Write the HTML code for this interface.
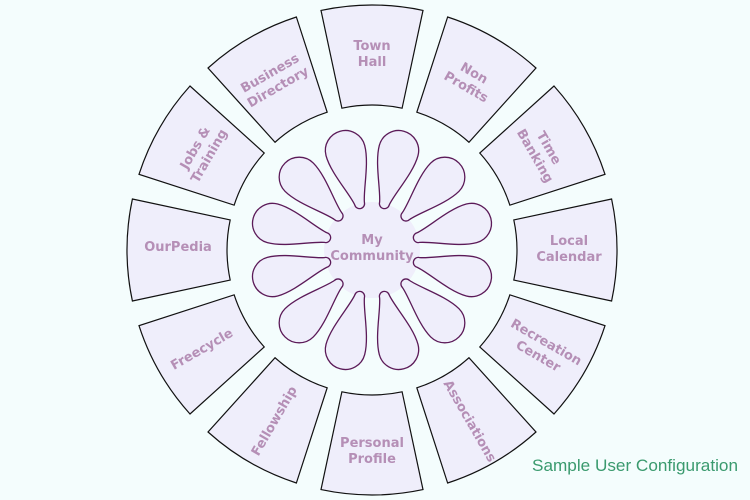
<!DOCTYPE html>
<html><head><meta charset="utf-8"><style>
html,body{margin:0;padding:0;background:#f4fdfd;}
svg{display:block;}
.s{fill:#efeefb;stroke:#111;stroke-width:1.2;}
.p{fill:#efeefb;stroke:#5b1a58;stroke-width:1.3;}
.t{font-family:"DejaVu Sans","Liberation Sans",sans-serif;font-weight:bold;font-size:13px;fill:#b58fb6;text-anchor:middle;}
</style></head><body>
<svg width="750" height="500" viewBox="0 0 750 500" xmlns="http://www.w3.org/2000/svg">
<rect width="750" height="500" fill="#f4fdfd"/>
<g transform="translate(372,250)">
<path class="s" transform="rotate(0)" d="M-51,-239.6 A245 245 0 0 1 51,-239.6 L30.1,-141.8 A145 145 0 0 0 -30.1,-141.8 Z"/>
<path class="s" transform="rotate(30)" d="M-51,-239.6 A245 245 0 0 1 51,-239.6 L30.1,-141.8 A145 145 0 0 0 -30.1,-141.8 Z"/>
<path class="s" transform="rotate(60)" d="M-51,-239.6 A245 245 0 0 1 51,-239.6 L30.1,-141.8 A145 145 0 0 0 -30.1,-141.8 Z"/>
<path class="s" transform="rotate(90)" d="M-51,-239.6 A245 245 0 0 1 51,-239.6 L30.1,-141.8 A145 145 0 0 0 -30.1,-141.8 Z"/>
<path class="s" transform="rotate(120)" d="M-51,-239.6 A245 245 0 0 1 51,-239.6 L30.1,-141.8 A145 145 0 0 0 -30.1,-141.8 Z"/>
<path class="s" transform="rotate(150)" d="M-51,-239.6 A245 245 0 0 1 51,-239.6 L30.1,-141.8 A145 145 0 0 0 -30.1,-141.8 Z"/>
<path class="s" transform="rotate(180)" d="M-51,-239.6 A245 245 0 0 1 51,-239.6 L30.1,-141.8 A145 145 0 0 0 -30.1,-141.8 Z"/>
<path class="s" transform="rotate(210)" d="M-51,-239.6 A245 245 0 0 1 51,-239.6 L30.1,-141.8 A145 145 0 0 0 -30.1,-141.8 Z"/>
<path class="s" transform="rotate(240)" d="M-51,-239.6 A245 245 0 0 1 51,-239.6 L30.1,-141.8 A145 145 0 0 0 -30.1,-141.8 Z"/>
<path class="s" transform="rotate(270)" d="M-51,-239.6 A245 245 0 0 1 51,-239.6 L30.1,-141.8 A145 145 0 0 0 -30.1,-141.8 Z"/>
<path class="s" transform="rotate(300)" d="M-51,-239.6 A245 245 0 0 1 51,-239.6 L30.1,-141.8 A145 145 0 0 0 -30.1,-141.8 Z"/>
<path class="s" transform="rotate(330)" d="M-51,-239.6 A245 245 0 0 1 51,-239.6 L30.1,-141.8 A145 145 0 0 0 -30.1,-141.8 Z"/>
<circle r="48" fill="#efeefb"/>
<path class="p" transform="rotate(15)" d="M5,-48 C7,-60 20,-85 20,-103 A20 20 0 0 0 -20,-103 C-20,-85 -7,-60 -5,-48 A5 5 0 0 0 5,-48 Z"/>
<path class="p" transform="rotate(45)" d="M5,-48 C7,-60 20,-85 20,-103 A20 20 0 0 0 -20,-103 C-20,-85 -7,-60 -5,-48 A5 5 0 0 0 5,-48 Z"/>
<path class="p" transform="rotate(75)" d="M5,-48 C7,-60 20,-85 20,-103 A20 20 0 0 0 -20,-103 C-20,-85 -7,-60 -5,-48 A5 5 0 0 0 5,-48 Z"/>
<path class="p" transform="rotate(105)" d="M5,-48 C7,-60 20,-85 20,-103 A20 20 0 0 0 -20,-103 C-20,-85 -7,-60 -5,-48 A5 5 0 0 0 5,-48 Z"/>
<path class="p" transform="rotate(135)" d="M5,-48 C7,-60 20,-85 20,-103 A20 20 0 0 0 -20,-103 C-20,-85 -7,-60 -5,-48 A5 5 0 0 0 5,-48 Z"/>
<path class="p" transform="rotate(165)" d="M5,-48 C7,-60 20,-85 20,-103 A20 20 0 0 0 -20,-103 C-20,-85 -7,-60 -5,-48 A5 5 0 0 0 5,-48 Z"/>
<path class="p" transform="rotate(195)" d="M5,-48 C7,-60 20,-85 20,-103 A20 20 0 0 0 -20,-103 C-20,-85 -7,-60 -5,-48 A5 5 0 0 0 5,-48 Z"/>
<path class="p" transform="rotate(225)" d="M5,-48 C7,-60 20,-85 20,-103 A20 20 0 0 0 -20,-103 C-20,-85 -7,-60 -5,-48 A5 5 0 0 0 5,-48 Z"/>
<path class="p" transform="rotate(255)" d="M5,-48 C7,-60 20,-85 20,-103 A20 20 0 0 0 -20,-103 C-20,-85 -7,-60 -5,-48 A5 5 0 0 0 5,-48 Z"/>
<path class="p" transform="rotate(285)" d="M5,-48 C7,-60 20,-85 20,-103 A20 20 0 0 0 -20,-103 C-20,-85 -7,-60 -5,-48 A5 5 0 0 0 5,-48 Z"/>
<path class="p" transform="rotate(315)" d="M5,-48 C7,-60 20,-85 20,-103 A20 20 0 0 0 -20,-103 C-20,-85 -7,-60 -5,-48 A5 5 0 0 0 5,-48 Z"/>
<path class="p" transform="rotate(345)" d="M5,-48 C7,-60 20,-85 20,-103 A20 20 0 0 0 -20,-103 C-20,-85 -7,-60 -5,-48 A5 5 0 0 0 5,-48 Z"/>
</g>
<g class="t">
<text transform="translate(372,247)"><tspan x="0" y="-3">My</tspan><tspan x="0" y="13">Community</tspan></text>
<text transform="translate(372,53)"><tspan x="0" y="-3">Town</tspan><tspan x="0" y="13">Hall</tspan></text>
<text transform="translate(470.5,79.4) rotate(30)"><tspan x="0" y="-3">Non</tspan><tspan x="0" y="13">Profits</tspan></text>
<text transform="translate(542.6,151.5) rotate(60)"><tspan x="0" y="-3">Time</tspan><tspan x="0" y="13">Banking</tspan></text>
<text transform="translate(569,250)"><tspan x="0" y="-5">Local</tspan><tspan x="0" y="11">Calendar</tspan></text>
<text transform="translate(542.6,348.5) rotate(30)"><tspan x="0" y="-3">Recreation</tspan><tspan x="0" y="13">Center</tspan></text>
<text transform="translate(470.5,420.6) rotate(60)"><tspan x="0" y="5">Associations</tspan></text>
<text transform="translate(372,447)"><tspan x="0" y="0">Personal</tspan><tspan x="0" y="16">Profile</tspan></text>
<text transform="translate(273.5,420.6) rotate(-60)"><tspan x="0" y="5">Fellowship</tspan></text>
<text transform="translate(201.4,348.5) rotate(-30)"><tspan x="0" y="5">Freecycle</tspan></text>
<text transform="translate(178,250)"><tspan x="0" y="1">OurPedia</tspan></text>
<text transform="translate(201.4,151.5) rotate(-60)"><tspan x="0" y="-3">Jobs &amp;</tspan><tspan x="0" y="13">Training</tspan></text>
<text transform="translate(273.5,79.4) rotate(-30)"><tspan x="0" y="-3">Business</tspan><tspan x="0" y="13">Directory</tspan></text>
</g>
<text x="532" y="471" font-family="Liberation Sans, sans-serif" font-size="17" fill="#3a9a6e" textLength="206" lengthAdjust="spacingAndGlyphs">Sample User Configuration</text>
</svg>
</body></html>
